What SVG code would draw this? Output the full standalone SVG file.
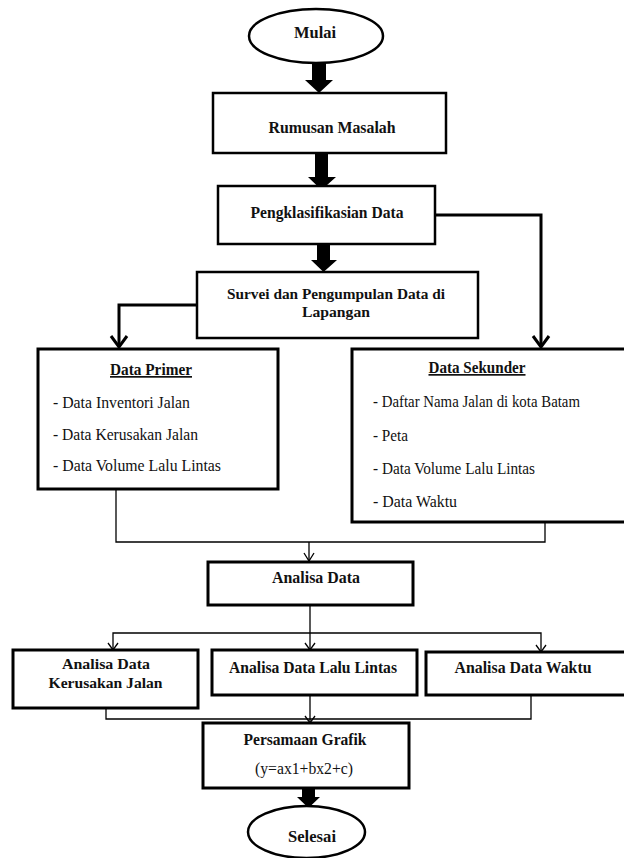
<svg xmlns="http://www.w3.org/2000/svg" width="624" height="858" viewBox="0 0 624 858" font-family="'Liberation Serif', 'DejaVu Serif', 'Times New Roman', serif">
<style>
.b{fill:#fff;stroke:#000;stroke-width:2.5}
.b3{fill:#fff;stroke:#000;stroke-width:3}
.t{fill:#111;text-anchor:middle}
.l{fill:#111;font-size:16px}
.bd{font-weight:bold;font-size:17px}
.bs{font-weight:bold;font-size:15px}
.rg{font-size:16px}
.thk{fill:#000}
.c{fill:none;stroke:#000;stroke-width:3}
.c1{fill:none;stroke:#000;stroke-width:1.3}
.u{text-decoration:underline}
</style>
<rect width="624" height="858" fill="#fff"/>
<g id="connectors">
  <polygon class="thk" points="312,62 326,62 326,80 333,80 319,93 305,80 312,80"/>
  <polygon class="thk" points="315,154 328,154 328,177 336,177 321.5,190 308,177 315,177"/>
  <polygon class="thk" points="317,245 330,245 330,260 337,260 323.5,272 311,260 317,260"/>
  <polygon class="thk" points="302,789 315,789 315,797 320,797 308.5,808 297,797 302,797"/>
  <polyline class="c" points="435,215 541,215 541,347"/>
  <polyline class="c" points="533,336 541,347 549,336"/>
  <polyline class="c" points="197,305 119,305 119,347"/>
  <polyline class="c" points="111,336 119,347 127,336"/>
  <polyline class="c1" points="116,489 116,542 545,542 545,522"/>
  <line class="c1" x1="309" y1="542" x2="309" y2="561"/>
  <polyline class="c1" points="304,553 309,561 314,553"/>
  <line class="c1" x1="310" y1="605" x2="310" y2="650"/>
  <polyline class="c1" points="113,650 113,633 541,633 541,652"/>
  <polyline class="c1" points="108,643 113,650 118,643"/>
  <polyline class="c1" points="305,643 310,650 315,643"/>
  <polyline class="c1" points="536,645 541,652 546,645"/>
  <polyline class="c1" points="106,708 106,719 531,719 531,695"/>
  <line class="c1" x1="310" y1="695" x2="310" y2="723"/>
  <polyline class="c1" points="305,716 310,723 315,716"/>
</g>
<g id="mulai">
  <ellipse class="b" cx="316" cy="36" rx="67" ry="27"/>
  <text class="t bd" x="315" y="38" textLength="42" lengthAdjust="spacingAndGlyphs">Mulai</text>
</g>
<g id="rumusan">
  <rect class="b" x="213" y="93" width="233" height="60"/>
  <text class="t bd" x="332" y="133" textLength="127" lengthAdjust="spacingAndGlyphs">Rumusan Masalah</text>
</g>
<g id="pengklasifikasian">
  <rect class="b" x="218" y="186" width="217" height="58"/>
  <text class="t bd" x="327" y="218" textLength="153" lengthAdjust="spacingAndGlyphs">Pengklasifikasian Data</text>
</g>
<g id="survei">
  <rect class="b" x="197" y="272" width="281" height="66"/>
  <text class="t bs" x="336" y="299" textLength="218" lengthAdjust="spacingAndGlyphs">Survei dan Pengumpulan Data di</text>
  <text class="t bs" x="336" y="317" textLength="68" lengthAdjust="spacingAndGlyphs">Lapangan</text>
</g>
<g id="data-primer">
  <rect class="b3" x="38" y="349" width="240" height="140"/>
  <text class="t bd u" x="151" y="375" textLength="82" lengthAdjust="spacingAndGlyphs">Data Primer</text>
  <text class="l" x="53" y="408" textLength="137" lengthAdjust="spacingAndGlyphs">- Data Inventori Jalan</text>
  <text class="l" x="53" y="440" textLength="145" lengthAdjust="spacingAndGlyphs">- Data Kerusakan Jalan</text>
  <text class="l" x="53" y="471" textLength="168" lengthAdjust="spacingAndGlyphs">- Data Volume Lalu Lintas</text>
</g>
<g id="data-sekunder">
  <rect class="b3" x="352" y="349" width="282" height="173"/>
  <text class="t bd u" x="477" y="373" textLength="97" lengthAdjust="spacingAndGlyphs">Data Sekunder</text>
  <text class="l" x="373" y="407" textLength="207" lengthAdjust="spacingAndGlyphs">- Daftar Nama Jalan di kota Batam</text>
  <text class="l" x="373" y="441" textLength="35" lengthAdjust="spacingAndGlyphs">- Peta</text>
  <text class="l" x="373" y="474" textLength="162" lengthAdjust="spacingAndGlyphs">- Data Volume Lalu Lintas</text>
  <text class="l" x="373" y="507" textLength="84" lengthAdjust="spacingAndGlyphs">- Data Waktu</text>
</g>
<g id="analisa-data">
  <rect class="b3" x="208" y="562" width="205" height="43"/>
  <text class="t bd" x="316" y="583" textLength="88" lengthAdjust="spacingAndGlyphs">Analisa Data</text>
</g>
<g id="analisa-kerusakan">
  <rect class="b3" x="13" y="650" width="185" height="58"/>
  <text class="t bs" x="106" y="669" textLength="88" lengthAdjust="spacingAndGlyphs">Analisa Data</text>
  <text class="t bs" x="105.5" y="688" textLength="114" lengthAdjust="spacingAndGlyphs">Kerusakan Jalan</text>
</g>
<g id="analisa-lalu-lintas">
  <rect class="b3" x="212" y="650" width="205" height="45"/>
  <text class="t bd" x="313" y="673" textLength="168" lengthAdjust="spacingAndGlyphs">Analisa Data Lalu Lintas</text>
</g>
<g id="analisa-waktu">
  <rect class="b3" x="426" y="652" width="206" height="43"/>
  <text class="t bd" x="523" y="673" textLength="137" lengthAdjust="spacingAndGlyphs">Analisa Data Waktu</text>
</g>
<g id="persamaan">
  <rect class="b3" x="203" y="723" width="206" height="65"/>
  <text class="t bd" x="305" y="745" textLength="123" lengthAdjust="spacingAndGlyphs">Persamaan Grafik</text>
  <text class="t rg" x="304" y="774" textLength="98" lengthAdjust="spacingAndGlyphs">(y=ax1+bx2+c)</text>
</g>
<g id="selesai">
  <ellipse class="b" cx="306.5" cy="832" rx="58.5" ry="26"/>
  <text class="t bd" x="312" y="842" textLength="48" lengthAdjust="spacingAndGlyphs">Selesai</text>
</g>
</svg>
